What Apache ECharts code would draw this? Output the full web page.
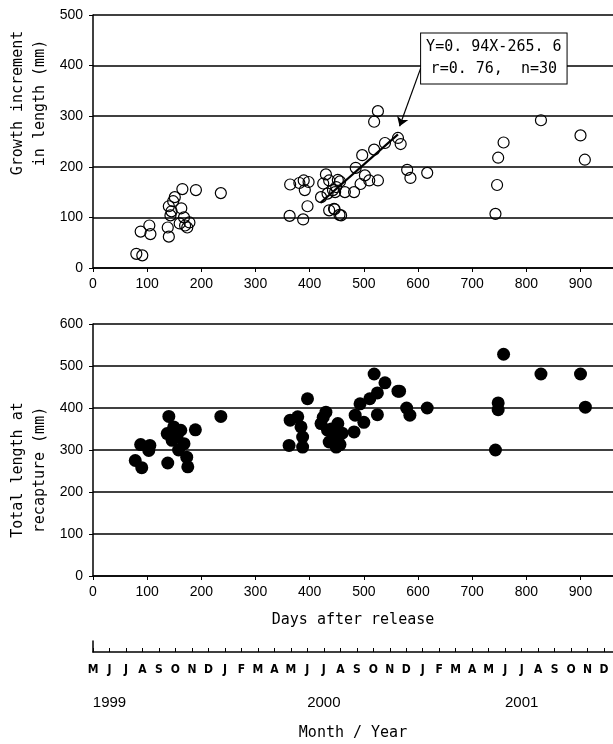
<!DOCTYPE html>
<html>
<head>
<meta charset="utf-8">
<title>Growth and total length vs days after release</title>
<script src="https://cdn.jsdelivr.net/npm/echarts@6/dist/echarts.min.js"></script>
<style>
  html, body { margin: 0; padding: 0; background: #fff; }
  #main { width: 613px; height: 744px; }
</style>
</head>
<body>
<div id="main"></div>
<script>
// growth increment in length (mm) vs days after release
var growthIncrement = [
  [80, 28], [91, 25], [88, 72], [104, 84], [106, 67], [138, 80], [140, 62], [140, 122],
  [148, 132], [151, 140], [143, 104], [145, 112], [165, 156], [190, 154], [163, 118],
  [168, 100], [160, 88], [170, 84], [174, 80], [178, 90], [236, 148],
  [364, 165], [381, 168], [389, 173], [398, 170], [391, 154], [363, 103], [388, 96],
  [396, 122], [430, 185], [425, 167], [436, 173], [452, 174], [421, 140], [433, 147],
  [443, 154], [449, 160], [436, 114], [446, 116], [455, 105],
  [526, 310], [519, 289], [539, 247], [563, 257], [568, 245], [519, 234], [497, 223],
  [485, 198], [502, 183], [494, 166], [510, 173], [526, 173], [482, 150], [456, 171],
  [465, 150], [447, 150], [445, 117], [458, 104], [580, 194], [586, 178], [617, 188],
  [743, 107], [746, 164], [748, 218], [758, 248], [827, 292], [900, 262], [908, 214]
];

// total length at recapture (mm) vs days after release
var totalLength = [
  [78, 275], [90, 258], [88, 313], [105, 311], [103, 299], [140, 380], [138, 269],
  [137, 339], [149, 355], [155, 331], [162, 347], [168, 315], [189, 348], [173, 283],
  [175, 260], [146, 323], [150, 345], [158, 300], [236, 380],
  [396, 422], [364, 371], [378, 379], [362, 311], [387, 307], [387, 331], [384, 355],
  [430, 390], [421, 363], [433, 347], [446, 331], [436, 319], [449, 307], [452, 363],
  [440, 350], [453, 333], [425, 378], [460, 340],
  [519, 481], [539, 460], [563, 440], [566, 440], [525, 436], [511, 422], [493, 410],
  [484, 383], [500, 366], [482, 343], [525, 384], [579, 400], [585, 383], [617, 400],
  [456, 313],
  [758, 528], [827, 481], [900, 481], [909, 402], [743, 300], [748, 412], [748, 396]
];

// regression line end points (days, mm)
var fitLine = [[420, 129], [563, 264]];
var arrowFrom = [605, 395];
var arrowTo = [566, 280];
var boxAt = [740, 414];
var fitText = 'Y=0. 94X-265. 6\nr=0. 76,  n=30';

var months = ['M', 'J', 'J', 'A', 'S', 'O', 'N', 'D',
  'J', 'F', 'M', 'A', 'M', 'J', 'J', 'A', 'S', 'O', 'N', 'D',
  'J', 'F', 'M', 'A', 'M', 'J', 'J', 'A', 'S', 'O', 'N', 'D'];
var yearLabels = { 1: '1999', 14: '2000', 26: '2001' };
var monthDays = 30.4375;

var myChart = echarts.init(document.getElementById('main'));

var black = '#000';
var tickFont = { color: black, fontFamily: 'Liberation Sans', fontSize: 14 };
var monoFont = 'DejaVu Sans Mono';

function dayAxis(idx, extra) {
  var ax = {
    gridIndex: idx,
    type: 'value',
    min: 0,
    max: 960,
    interval: 100,
    axisLine: { show: true, lineStyle: { color: black, width: 1.5 } },
    axisTick: { show: true, length: 4, lineStyle: { color: black } },
    axisLabel: Object.assign({ margin: 9, showMaxLabel: false }, tickFont),
    splitLine: { show: false }
  };
  return Object.assign(ax, extra || {});
}

function lenAxis(idx, max) {
  return {
    gridIndex: idx,
    type: 'value',
    min: 0,
    max: max,
    interval: 100,
    axisLine: { show: true, lineStyle: { color: black, width: 1.5 } },
    axisTick: { show: true, length: 4, lineStyle: { color: black } },
    axisLabel: Object.assign({ margin: 10 }, tickFont),
    splitLine: { show: true, lineStyle: { color: black, width: 1.5 } }
  };
}

var option = {
  backgroundColor: '#fff',
  animation: false,
  grid: [
    { left: 93, top: 15, width: 520, height: 253 },
    { left: 93, top: 324, width: 520, height: 252 },
    { left: 93, top: 641, width: 520, height: 11 }
  ],
  xAxis: [
    dayAxis(0),
    dayAxis(1, {
      name: 'Days after release',
      nameLocation: 'middle',
      nameGap: 37,
      nameTextStyle: { color: black, fontFamily: monoFont, fontSize: 15 }
    }),
    // month scale
    {
      gridIndex: 2,
      type: 'value',
      min: 0,
      max: 960,
      interval: monthDays,
      axisLine: { show: true, lineStyle: { color: black, width: 1.5 } },
      axisTick: { show: true, inside: true, length: 4, lineStyle: { color: black } },
      axisLabel: {
        margin: 12,
        showMaxLabel: false,
        color: black,
        fontFamily: 'DejaVu Sans Condensed',
        fontWeight: 'bold',
        fontSize: 12,
        formatter: function (v) {
          var i = Math.round(v / monthDays);
          return months[i] || '';
        }
      },
      splitLine: { show: false }
    },
    // year labels under the months
    {
      gridIndex: 2,
      type: 'value',
      position: 'bottom',
      min: 0,
      max: 960,
      interval: monthDays,
      axisLine: { show: false },
      axisTick: { show: false },
      axisLabel: {
        margin: 43,
        showMaxLabel: false,
        color: black,
        fontFamily: 'Liberation Sans',
        fontSize: 15,
        formatter: function (v) {
          var i = Math.round(v / monthDays);
          return yearLabels[i] || '';
        }
      },
      splitLine: { show: false },
      name: 'Month / Year',
      nameLocation: 'middle',
      nameGap: 74,
      nameTextStyle: { color: black, fontFamily: monoFont, fontSize: 15 }
    }
  ],
  yAxis: [
    lenAxis(0, 500),
    lenAxis(1, 600),
    {
      gridIndex: 2,
      type: 'value',
      min: 0,
      max: 1,
      axisLine: { show: true, lineStyle: { color: black, width: 1.5 } },
      axisTick: { show: false },
      axisLabel: { show: false },
      splitLine: { show: false }
    }
  ],
  graphic: [
    {
      type: 'text',
      x: 29,
      y: 103,
      rotation: Math.PI / 2,
      style: {
        text: 'Growth increment\nin length (mm)',
        font: '15px "DejaVu Sans Mono"',
        lineHeight: 22,
        fill: black,
        textAlign: 'center',
        textVerticalAlign: 'middle'
      }
    },
    {
      type: 'text',
      x: 29,
      y: 470,
      rotation: Math.PI / 2,
      style: {
        text: 'Total length at\nrecapture (mm)',
        font: '15px "DejaVu Sans Mono"',
        lineHeight: 22,
        fill: black,
        textAlign: 'center',
        textVerticalAlign: 'middle'
      }
    }
  ],
  series: [
    {
      type: 'scatter',
      xAxisIndex: 0,
      yAxisIndex: 0,
      data: growthIncrement,
      symbol: 'circle',
      symbolSize: 11,
      itemStyle: { color: 'rgba(0,0,0,0)', borderColor: black, borderWidth: 1.2, opacity: 1 },
      z: 3
    },
    {
      type: 'line',
      xAxisIndex: 0,
      yAxisIndex: 0,
      data: fitLine,
      showSymbol: false,
      symbol: 'none',
      lineStyle: { color: black, width: 2.2 },
      z: 4,
      markLine: {
        silent: true,
        symbol: ['none', 'arrow'],
        symbolSize: 9,
        label: { show: false },
        lineStyle: { color: black, width: 1.2, type: 'solid' },
        data: [[{ coord: arrowFrom }, { coord: arrowTo }]]
      },
      markPoint: {
        silent: true,
        symbol: 'rect',
        symbolSize: 1,
        itemStyle: { color: 'rgba(0,0,0,0)' },
        label: {
          show: true,
          position: 'inside',
          formatter: fitText,
          color: black,
          fontFamily: monoFont,
          fontSize: 15,
          lineHeight: 22,
          align: 'center',
          backgroundColor: '#fff',
          borderColor: black,
          borderWidth: 1,
          padding: [3, 5, 3, 5]
        },
        data: [{ coord: boxAt }]
      }
    },
    {
      type: 'scatter',
      xAxisIndex: 1,
      yAxisIndex: 1,
      data: totalLength,
      symbol: 'circle',
      symbolSize: 13,
      itemStyle: { color: black, opacity: 1 },
      z: 3
    }
  ]
};

myChart.setOption(option);
</script>
</body>
</html>
